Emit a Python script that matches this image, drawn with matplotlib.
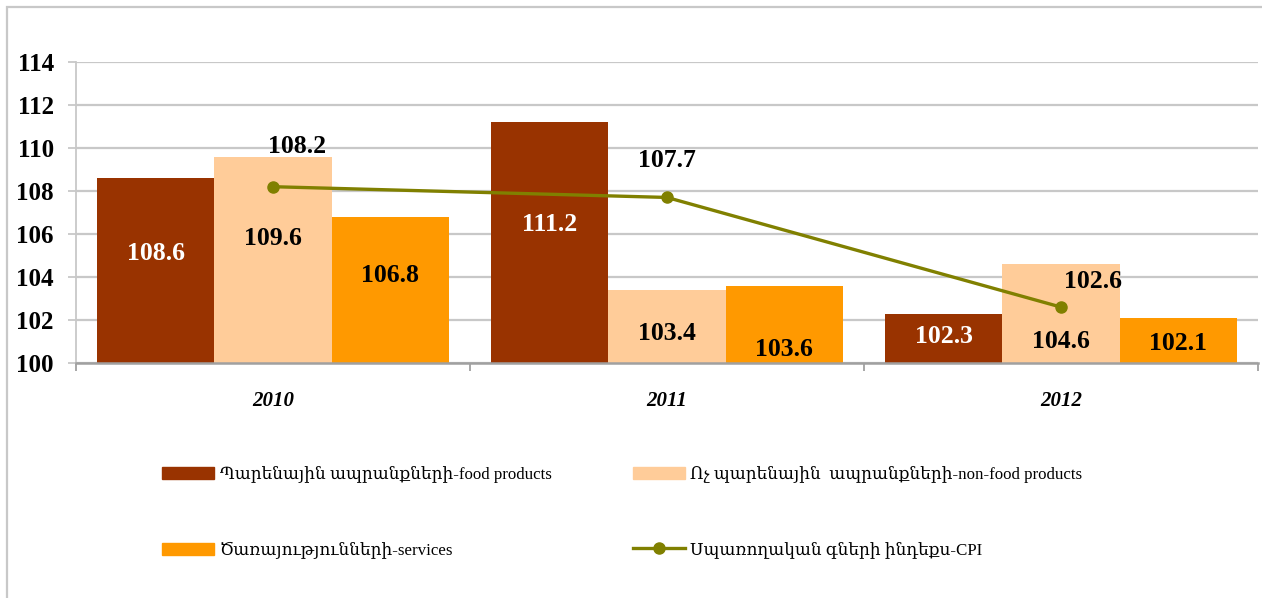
import matplotlib
matplotlib.use("Agg")
import matplotlib.pyplot as plt
from matplotlib.patches import Rectangle, Patch
from matplotlib.lines import Line2D
import numpy as np

years = ["2010", "2011", "2012"]
food = [108.6, 111.2, 102.3]
nonfood = [109.6, 103.4, 104.6]
services = [106.8, 103.6, 102.1]
cpi = [108.2, 107.7, 102.6]

labels = ["Պարենային ապրանքների-food products",
          "Ոչ պարենային  ապրանքների-non-food products",
          "Ծառայությունների-services",
          "Սպառողական գների ինդեքս-CPI"]
colors = ["#993300", "#FFCC99", "#FF9900"]
line_color = "#808000"

serif = ["Liberation Serif", "DejaVu Serif"]
plt.rcParams["font.family"] = serif

fig = plt.figure(figsize=(12.62, 5.98), dpi=100)
ax = fig.add_axes([76/1262, 1-363/598, (1258-76)/1262, (363-62)/598])

x = np.arange(len(years))
w = 0.297
off = 0.298
ax.bar(x - off, np.array(food) - 100, w, bottom=100, color=colors[0], zorder=2)
ax.bar(x, np.array(nonfood) - 100, w, bottom=100, color=colors[1], zorder=2)
ax.bar(x + off, np.array(services) - 100, w, bottom=100, color=colors[2], zorder=2)
ax.plot(x, cpi, color=line_color, lw=2.4, marker="o", ms=8, zorder=4)

# data labels (positions as drawn in the source chart)
lab_food_y = [105.1, 106.45, 101.25]
lab_non_y = [105.8, 101.35, 100.98]
lab_srv_y = [104.05, 100.65, 100.9]
lab_cpi = [(0.06, 110.05), (1.0, 109.4), (2.08, 103.77)]
fs = 18.5
for i in range(3):
    ax.text(x[i] - off, lab_food_y[i], f"{food[i]:.1f}", ha="center", va="center",
            color="white", fontsize=fs, fontweight="bold", zorder=5)
    ax.text(x[i], lab_non_y[i], f"{nonfood[i]:.1f}", ha="center", va="center",
            color="black", fontsize=fs, fontweight="bold", zorder=5)
    ax.text(x[i] + off, lab_srv_y[i], f"{services[i]:.1f}", ha="center", va="center",
            color="black", fontsize=fs, fontweight="bold", zorder=5)
    ax.text(lab_cpi[i][0], lab_cpi[i][1], f"{cpi[i]:.1f}", ha="center", va="center",
            color="black", fontsize=fs, fontweight="bold", zorder=5)

ax.set_xlim(-0.5, 2.5)
ax.set_ylim(100, 114)
ax.set_yticks(np.arange(100, 115, 2))
ax.set_yticklabels([str(v) for v in range(100, 115, 2)], fontsize=18, fontweight="bold")
ax.yaxis.grid(True, color="#c8c8c8", lw=1.6, zorder=0)
ax.set_axisbelow(True)

ax.set_xticks([-0.5, 0.5, 1.5, 2.5])
ax.set_xticklabels([])
ax.set_xticks(x, minor=True)
ax.set_xticklabels(years, minor=True, fontsize=15, fontweight="bold", fontstyle="italic")
ax.tick_params(axis="x", which="minor", length=0, pad=20)
ax.tick_params(axis="x", which="major", length=6, width=1.3, color="#a0a0a0", direction="out")
ax.tick_params(axis="y", length=6, width=1.3, color="#c8c8c8", pad=10)

for s in ["top", "right"]:
    ax.spines[s].set_visible(False)
ax.spines["left"].set_color("#c8c8c8")
ax.spines["left"].set_linewidth(1.3)
ax.spines["bottom"].set_color("#a0a0a0")
ax.spines["bottom"].set_linewidth(1.8)

handles = [Patch(color=colors[0]), Patch(color=colors[2]),
           Patch(color=colors[1]), Line2D([], [], color=line_color, lw=2.4, marker="o", ms=8)]
hl = [labels[0], labels[2], labels[1], labels[3]]
fig.legend(handles, hl, ncol=2, loc="upper left", bbox_to_anchor=(147/1262, 1-451/598),
           frameon=False, fontsize=12.2, handlelength=3.08, handleheight=0.71,
           handletextpad=0.3, labelspacing=3.44, columnspacing=4.8)

fig.patches.append(Rectangle((7/1262, -0.1), 1.2, 1 - 7/598 + 0.1, transform=fig.transFigure,
                             fill=False, edgecolor="#c8c8c8", lw=1.6))

fig.savefig("out.png", dpi=100)
